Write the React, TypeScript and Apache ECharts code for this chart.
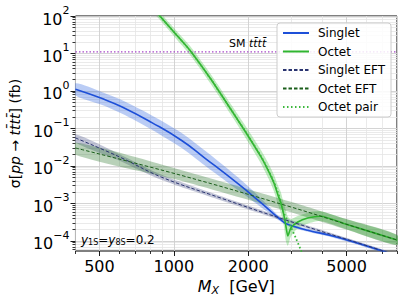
import React, { useEffect, useRef } from "react";
import * as echarts from "echarts";

const FONT = "DejaVu Sans";
const L = Math.log10;

// axis ranges (GeV, fb)
const xMin = 400;
const xMax = 8000;
const yMin = 5.4e-5;
const yMax = 100;
const xMajorTicks = [500, 1000, 2000, 5000];
const xMinorTicks = [400, 600, 700, 800, 900, 3000, 4000, 6000, 7000, 8000];
const yMajorExps = [-4, -3, -2, -1, 0, 1, 2];
const yMinorMult = [2, 3, 4, 5, 6, 7, 8, 9];

// SM tttt cross section (fb)
const smXsec = 11;

// Singlet
const singletMass = [400, 513, 618, 815, 1076, 1331, 1823, 2213, 2713, 2815, 2975, 3482, 4306, 5183, 6966, 7640];
const singletXsec = [1.11, 0.627, 0.3745, 0.1437, 0.0479, 0.01656, 3.31e-3, 1.15e-3, 3.63e-4, 3.02e-4, 2.59e-4, 1.93e-4, 1.4e-4, 1.0e-4, 5.41e-5, 4.5e-5];
const singletHigh = [1.6, 0.927, 0.566, 0.2226, 0.0759, 0.02625, 4.9e-3, 1.52e-3, 4.07e-4, 3.31e-4, 2.84e-4, 2.12e-4, 1.53e-4, 1.1e-4, 5.93e-5, 4.93e-5];
const singletLow = [0.77, 0.424, 0.248, 0.0928, 0.0302, 0.01045, 2.24e-3, 8.72e-4, 3.24e-4, 2.75e-4, 2.36e-4, 1.76e-4, 1.28e-4, 0.91e-4, 4.93e-5, 4.1e-5];

// Octet
const octetMass = [815, 878, 1009, 1159, 1420, 1708, 1963, 2254, 2405, 2542, 2638, 2712, 2788, 2841, 2893, 2975, 3174, 3482, 3926, 4948, 8000];
const octetXsec = [174, 100, 35.2, 12.4, 1.96, 0.311, 0.0759, 0.0174, 7.8e-3, 3.52e-3, 1.69e-3, 1.03e-3, 4.93e-4, 2.51e-4, 1.36e-4, 2.22e-4, 3.21e-4, 4.1e-4, 4.58e-4, 2.84e-4, 1.06e-4];
const octetHigh = [219, 126, 45.3, 16.3, 2.64, 0.429, 0.11, 0.0263, 0.0124, 5.8e-3, 3.0e-3, 1.96e-3, 9.8e-4, 6.5e-4, 4.5e-4, 3.8e-4, 4.6e-4, 5.7e-4, 6.2e-4, 3.83e-4, 1.43e-4];
const octetLow = [138, 79, 27.3, 9.4, 1.45, 0.225, 0.0525, 0.0115, 4.9e-3, 2.1e-3, 9.5e-4, 5.4e-4, 2.5e-4, 1.0e-4, 7.5e-5, 1.3e-4, 2.2e-4, 2.9e-4, 3.4e-4, 2.1e-4, 7.9e-5];

// Singlet EFT
const singletEftMass = [400, 600, 894, 1557, 2712, 6839, 7600];
const singletEftXsec = [0.056, 0.0177, 5.0e-3, 1.38e-3, 4.0e-4, 5.75e-5, 4.5e-5];
const singletEftHigh = [0.07, 0.021, 5.8e-3, 1.55e-3, 4.4e-4, 6.2e-5, 4.8e-5];
const singletEftLow = [0.042, 0.014, 4.2e-3, 1.2e-3, 3.6e-4, 5.3e-5, 4.2e-5];

// Octet EFT
const octetEftMass = [400, 1076, 2975, 4948, 8000];
const octetEftXsec = [0.0302, 5.58e-3, 8.07e-4, 2.84e-4, 1.06e-4];
const octetEftHigh = [0.042, 7.7e-3, 1.11e-3, 3.9e-4, 1.46e-4];
const octetEftLow = [0.02, 4.0e-3, 5.85e-4, 2.06e-4, 7.7e-5];

// Octet pair
const pairMass = [815, 878, 1009, 1159, 1420, 1708, 1963, 2254, 2405, 2542, 2638, 2788, 2975, 3117, 3264, 3400];
const pairXsec = [174, 100, 35.2, 12.4, 1.96, 0.311, 0.078, 0.018, 8.1e-3, 3.7e-3, 2.0e-3, 5.6e-4, 2.36e-4, 1.2e-4, 5.8e-5, 3.0e-5];

const COLORS = {
  singlet: "#1d4fd8",
  singletBand: "rgba(40,95,225,0.32)",
  octet: "#2fb52f",
  octetBand: "rgba(60,195,60,0.33)",
  sEft: "#2a3470",
  sEftBand: "rgba(70,80,135,0.33)",
  oEft: "#1b5e1b",
  oEftBand: "rgba(40,115,40,0.33)",
  pair: "#3cb83c",
  sm: "#a646c8",
};

const pts = (m: number[], s: number[]) => m.map((v, i) => [L(v), L(s[i])]);

function bandSeries(name: string, mass: number[], lo: number[], hi: number[], color: string) {
  const data = mass.map((m, i) => [L(m), L(lo[i]), L(hi[i])]);
  return {
    type: "custom",
    name,
    silent: true,
    clip: true,
    z: 1,
    data,
    encode: { x: 0, y: [1, 2] },
    renderItem: (params: any, api: any) => {
      if (params.dataIndex !== 0) return null;
      const up = data.map((d) => api.coord([d[0], d[2]]));
      const dn = data.map((d) => api.coord([d[0], d[1]])).reverse();
      return {
        type: "polygon",
        shape: { points: up.concat(dn), smooth: 0.25 },
        style: { fill: color, stroke: "none" },
      };
    },
  };
}

function lineSeries(name: string, data: number[][], color: string, width: number, type: any, smooth: number | boolean, z = 3) {
  return {
    type: "line",
    name,
    data,
    symbol: "none",
    smooth,
    clip: true,
    z,
    lineStyle: { color, width, type },
    itemStyle: { color },
  };
}

export default function App() {
  const ref = useRef<HTMLDivElement>(null);
  useEffect(() => {
    if (!ref.current) return;
    const chart = echarts.init(ref.current, undefined, { renderer: "svg" });

    const yMinorVals: number[] = [];
    for (let e = -5; e <= 1; e++) {
      for (const k of yMinorMult) {
        const v = L(k) + e;
        if (v >= L(yMin) && v <= L(yMax)) yMinorVals.push(v);
      }
    }
    const xMinorVals = xMinorTicks.map(L);
    const xMajorVals = xMajorTicks.map(L);

    const supLabel = (v: number) => {
      const e = Math.round(v);
      return `{a|10}{b|${e < 0 ? "\u2212" + -e : e}}`;
    };

    const option: any = {
      animation: false,
      textStyle: { fontFamily: FONT },
      grid: {
        left: 73,
        top: 16,
        right: 10,
        bottom: 54,
        show: true,
        borderColor: "#000",
        borderWidth: 1,
        backgroundColor: "transparent",
      },
      xAxis: [
        {
          type: "value",
          min: L(xMin),
          max: L(xMax),
          position: "bottom",
          axisLine: { show: false, onZero: false },
          axisTick: { show: true, customValues: xMinorVals, length: 3, lineStyle: { color: "#000", width: 0.8 } },
          axisLabel: { show: false },
          splitLine: { show: true, lineStyle: { color: "#e4e4e4", width: 0.8 } },
        },
        {
          type: "value",
          min: L(xMin),
          max: L(xMax),
          position: "bottom",
          axisLine: { show: false, onZero: false },
          axisTick: { show: true, customValues: xMajorVals, length: 5, lineStyle: { color: "#000", width: 0.9 } },
          axisLabel: {
            show: true,
            customValues: xMajorVals,
            margin: 7,
            fontSize: 16,
            color: "#000",
            fontFamily: FONT,
            formatter: (v: number) => String(Math.round(Math.pow(10, v))),
          },
          splitLine: { show: true, lineStyle: { color: "#cfcfcf", width: 0.9 } },
          name: "{i|M}{s|X}{n|  [GeV]}",
          nameLocation: "middle",
          nameGap: 25,
          nameTextStyle: {
            rich: {
              i: { fontSize: 16, fontStyle: "italic", fontFamily: FONT, color: "#000" },
              s: { fontSize: 11, fontStyle: "italic", fontFamily: FONT, color: "#000", padding: [8, 0, 0, 0] },
              n: { fontSize: 16, fontFamily: FONT, color: "#000" },
            },
          },
        },
      ],
      yAxis: [
        {
          type: "value",
          min: L(yMin),
          max: L(yMax),
          position: "left",
          axisLine: { show: false, onZero: false },
          axisTick: { show: true, customValues: yMinorVals, length: 3, lineStyle: { color: "#000", width: 0.8 } },
          axisLabel: { show: false },
          splitLine: { show: true, lineStyle: { color: "#e4e4e4", width: 0.8 } },
        },
        {
          type: "value",
          min: L(yMin),
          max: L(yMax),
          position: "left",
          axisLine: { show: false, onZero: false },
          axisTick: { show: true, customValues: yMajorExps, length: 5, lineStyle: { color: "#000", width: 0.9 } },
          axisLabel: {
            show: true,
            customValues: yMajorExps,
            margin: 6,
            formatter: supLabel,
            rich: {
              a: { fontSize: 16, fontFamily: FONT, color: "#000", verticalAlign: "bottom", lineHeight: 22 },
              b: { fontSize: 11, fontFamily: FONT, color: "#000", verticalAlign: "top", lineHeight: 12 },
            },
          },
          splitLine: { show: true, lineStyle: { color: "#cfcfcf", width: 0.9 } },
          name: "{n|\u03c3[}{i|pp}{n| \u2192 }{i|tt\u0304tt\u0304}{n|] (fb)}",
          nameLocation: "middle",
          nameGap: 53,
          nameRotate: 90,
          nameTextStyle: {
            rich: {
              n: { fontSize: 14, fontFamily: FONT, color: "#000" },
              i: { fontSize: 14, fontStyle: "italic", fontFamily: FONT, color: "#000" },
            },
          },
        },
      ],
      legend: {
        orient: "vertical",
        left: 277,
        top: 23,
        itemWidth: 26,
        itemHeight: 12,
        itemGap: 6.5,
        padding: [4, 6, 4, 5],
        backgroundColor: "rgba(255,255,255,0.85)",
        borderColor: "#cccccc",
        borderWidth: 1,
        borderRadius: 3,
        itemStyle: { opacity: 0 },
        textStyle: { fontSize: 12, fontFamily: FONT, color: "#000", padding: [0, 0, 0, 4] },
        data: ["Singlet", "Octet", "Singlet EFT", "Octet EFT", "Octet pair"],
      },
      graphic: [
        {
          type: "text",
          x: 229,
          y: 38,
          z: 10,
          style: {
            text: "{n|SM }{i|tt\u0304tt\u0304}",
            rich: {
              n: { fontSize: 11, fontFamily: FONT, fill: "#000" },
              i: { fontSize: 11, fontFamily: FONT, fontStyle: "italic", fill: "#000" },
            },
          },
        },
        {
          type: "text",
          x: 81,
          y: 233,
          z: 10,
          style: {
            text: "{i|y}{s|1S}{n|=}{i|y}{s|8S}{n|=0.2}",
            rich: {
              i: { fontSize: 12, fontFamily: FONT, fontStyle: "italic", fill: "#000" },
              s: { fontSize: 8, fontFamily: FONT, fill: "#000", padding: [5, 0, 0, 0] },
              n: { fontSize: 12, fontFamily: FONT, fill: "#000" },
            },
          },
        },
      ],
      series: [
        bandSeries("band-s", singletMass, singletLow, singletHigh, COLORS.singletBand),
        bandSeries("band-o", octetMass, octetLow, octetHigh, COLORS.octetBand),
        bandSeries("band-se", singletEftMass, singletEftLow, singletEftHigh, COLORS.sEftBand),
        bandSeries("band-oe", octetEftMass, octetEftLow, octetEftHigh, COLORS.oEftBand),
        {
          type: "line",
          name: "SM",
          data: [
            [L(xMin), L(smXsec)],
            [L(xMax), L(smXsec)],
          ],
          symbol: "none",
          z: 2,
          lineStyle: { color: COLORS.sm, width: 1.3, type: [1.5, 2] },
        },
        lineSeries("Singlet EFT", pts(singletEftMass, singletEftXsec), COLORS.sEft, 1, [3.5, 2], 0.4, 4),
        lineSeries("Octet EFT", pts(octetEftMass, octetEftXsec), COLORS.oEft, 1, [3.5, 2], 0.4, 4),
        lineSeries("Singlet", pts(singletMass, singletXsec), COLORS.singlet, 1.6, "solid", 0.5, 3),
        lineSeries("Octet", pts(octetMass, octetXsec), COLORS.octet, 1.6, "solid", 0.2, 3),
        lineSeries("Octet pair", pts(pairMass, pairXsec), COLORS.pair, 1.8, [1.5, 2.5], 0.2, 5),
      ],
    };
    chart.setOption(option);
    return () => chart.dispose();
  }, []);
  return <div ref={ref} style={{ width: 407, height: 305, position: "absolute", left: 0, top: 0 }} />;
}
